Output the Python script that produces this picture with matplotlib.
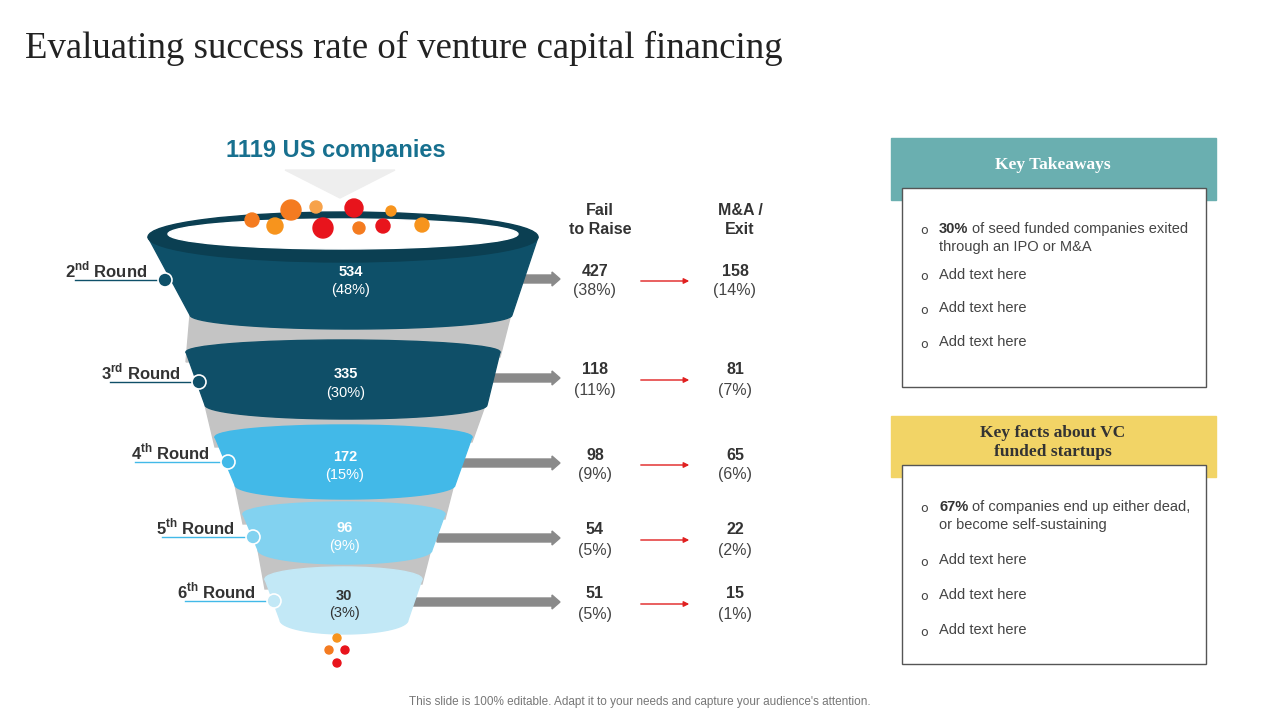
import matplotlib
matplotlib.use("Agg")
import matplotlib.pyplot as plt
import numpy as np
from matplotlib.patches import Polygon, Ellipse, Rectangle, Circle, FancyArrow

rounds = ["2nd", "3rd", "4th", "5th", "6th"]
values = [534, 335, 172, 96, 30]
value_pct = [48, 30, 15, 9, 3]
fail = [427, 118, 98, 54, 51]
fail_pct = [38, 11, 9, 5, 5]
exits = [158, 81, 65, 22, 15]
exit_pct = [14, 7, 6, 2, 1]
takeaways = ["Add text here", "Add text here", "Add text here"]

fig = plt.figure(figsize=(12.8, 7.2), dpi=100)
ax = fig.add_axes([0, 0, 1, 1])
ax.set_xlim(0, 1280); ax.set_ylim(720, 0); ax.axis("off")
F = "Liberation Sans"
plt.rcParams["mathtext.fontset"] = "custom"
plt.rcParams["mathtext.bf"] = "Liberation Sans:bold"

ax.text(25, 48, "Evaluating success rate of venture capital financing", fontsize=26.5,
        family="Liberation Serif", va="center", color="#222")
ax.text(336, 150, "1119 US companies", fontsize=17, fontweight="bold", color="#17708f",
        ha="center", va="center", family=F)
ax.add_patch(Polygon([[285, 170], [395, 170], [340, 198]], color="#eeeeee", zorder=1))

geo = [(237, 148, 538, 315, 190, 512), (352, 186, 500, 405, 205, 487),
       (437, 215, 472, 485, 235, 455), (514, 243, 445, 550, 258, 432),
       (579, 265, 422, 620, 280, 408)]
cols = ["#0e5069", "#0f4f68", "#42b9e8", "#82d2f0", "#c2e8f6"]
t = np.linspace(0, np.pi, 40)

for i in range(4):
    g0, g1 = geo[i], geo[i + 1]
    ax.add_patch(Polygon([[g0[4], g0[3]], [g0[5], g0[3] - 5], [g1[2], g1[0] + 5], [g1[1], g1[0]+10]],
                         color="#c4c4c4", zorder=2))
for i, (ty, tl, tr, by, bl, br) in enumerate(geo):
    tc, tw = (tl + tr) / 2, (tr - tl) / 2
    bc, bw = (bl + br) / 2, (br - bl) / 2
    top = [[tc - tw * np.cos(a), ty] for a in t]
    bot = [[bc + bw * np.cos(a), by + 14 * np.sin(a)] for a in t]
    ax.add_patch(Polygon(top + bot, color=cols[i], zorder=3))
    eh = 50 if i == 0 else 24
    ax.add_patch(Ellipse((tc, ty), 2 * tw, eh, color=cols[i] if i else "#0b3f52", zorder=3))
    if i == 0:
        ax.add_patch(Ellipse((tc, ty - 3), 2 * tw - 40, 30, color="white", zorder=4))
    cy = (ty + by) / 2 + 5
    tcol = "white" if i < 4 else "#333"
    ax.text(bc, cy - 9, str(values[i]), ha="center", va="center", fontsize=10.5,
            fontweight="bold", color=tcol, family=F, zorder=5)
    ax.text(bc, cy + 9, f"({value_pct[i]}%)", ha="center", va="center", fontsize=10.5,
            color=tcol, family=F, zorder=5)

for x, y, r, c in [(252, 220, 7, "#f47b20"), (275, 226, 8, "#f7941d"), (291, 210, 10, "#f47b20"),
                   (316, 207, 6, "#f7a24a"), (323, 228, 10, "#e8141c"), (354, 208, 9, "#e8141c"),
                   (359, 228, 6, "#f47b20"), (383, 226, 7, "#e8141c"), (391, 211, 5, "#f7941d"),
                   (422, 225, 7, "#f7941d"), (337, 638, 4, "#f7941d"), (329, 650, 4, "#f47b20"),
                   (345, 650, 4, "#e8141c"), (337, 663, 4, "#e8141c")]:
    ax.add_patch(Circle((x, y), r, color=c, zorder=6))

lab = [(165, 280, 75), (199, 382, 110), (228, 462, 135), (253, 537, 162), (274, 601, 185)]
for i, (cx, cy, lx) in enumerate(lab):
    ax.plot([lx, cx], [cy, cy], color=cols[i] if i < 2 else "#42b9e8", lw=1, zorder=5)
    ax.add_patch(Circle((cx, cy), 7, facecolor=cols[i], edgecolor="white", lw=1.2, zorder=6))
    ax.text(cx - 18, cy - 10, rounds[i][0] + r"$^{\mathbf{" + rounds[i][1:] + "}}$ Round",
            ha="right", va="center", fontsize=12, fontweight="bold", color="#333", family=F)

ays = [279, 378, 463, 538, 602]
for i, y in enumerate(ays):
    x0 = geo[i][5] + 5
    ax.add_patch(FancyArrow(x0, y, 560 - x0 - 8, 0, width=8, head_width=14, head_length=8,
                            color="#8a8a8a", zorder=2))
    ax.annotate("", xy=(692, y + 2), xytext=(638, y + 2),
                arrowprops=dict(arrowstyle="-|>", color="#e02020", lw=1, mutation_scale=8))
    for x, v, p in [(595, fail[i], fail_pct[i]), (735, exits[i], exit_pct[i])]:
        ax.text(x, y - 8, str(v), ha="center", va="center", fontsize=11.5, fontweight="bold",
                color="#333", family=F)
        ax.text(x, y + 12, f"({p}%)", ha="center", va="center", fontsize=11.5, color="#444", family=F)
ax.text(600, 220, "Fail\nto Raise", ha="center", va="center", fontsize=11.5, fontweight="bold",
        color="#333", family=F, linespacing=1.3)
ax.text(740, 220, "M&A /\nExit", ha="center", va="center", fontsize=11.5, fontweight="bold",
        color="#333", family=F, linespacing=1.3)

fig.canvas.draw()
renderer = fig.canvas.get_renderer()

def panel(y1, hy0, hy1, hcol, title, bold, txt, yy, tcol):
    ax.add_patch(Rectangle((891, hy0), 325, hy1 - hy0, color=hcol, zorder=1))
    ax.add_patch(Rectangle((902, hy1 - 12), 304, y1 - hy1 + 12, facecolor="white",
                           edgecolor="#555", lw=1, zorder=2))
    ax.text(1053, (hy0 + hy1 - 12) / 2 + 2, title, ha="center", va="center", fontsize=12.5,
            fontweight="bold", family="Liberation Serif", color=tcol, zorder=3, linespacing=1.3)
    ax.text(920, yy + 2, "o", fontsize=9, va="center", color="#444", zorder=3)
    b = ax.text(939, yy, bold, fontsize=10.5, fontweight="bold", va="center", color="#333",
                family=F, zorder=3)
    w = b.get_window_extent(renderer).width
    ax.text(939 + w + 4, yy, txt[0], fontsize=10.5, va="center", color="#444", family=F, zorder=3)
    ax.text(939, yy + 18, txt[1], fontsize=10.5, va="center", color="#444", family=F, zorder=3)

panel(387, 138, 200, "#6aafb0", "Key Takeaways", "30%",
      ["of seed funded companies exited", "through an IPO or M&A"], 229, "white")
for j, s in enumerate(takeaways):
    y = 275 + j * 33.5
    ax.text(920, y + 2, "o", fontsize=9, va="center", color="#444")
    ax.text(939, y, s, fontsize=10.5, va="center", color="#444", family=F)
panel(664, 416, 477, "#f2d466", "Key facts about VC\nfunded startups", "67%",
      ["of companies end up either dead,", "or become self-sustaining"], 507, "#333")
for j, s in enumerate(takeaways):
    y = 560 + j * 35
    ax.text(920, y + 2, "o", fontsize=9, va="center", color="#444")
    ax.text(939, y, s, fontsize=10.5, va="center", color="#444", family=F)

ax.text(640, 702, "This slide is 100% editable. Adapt it to your needs and capture your audience's attention.",
        ha="center", va="center", fontsize=8.5, color="#777", family=F)
fig.savefig("out.png", dpi=100)
